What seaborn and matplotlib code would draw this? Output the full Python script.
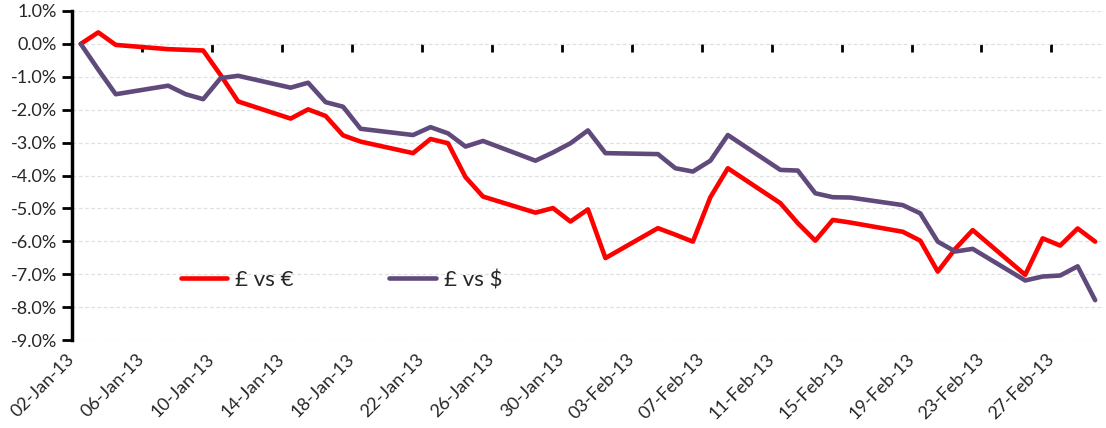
import matplotlib
matplotlib.use("Agg")
import matplotlib.pyplot as plt
import matplotlib.ticker as mticker
import seaborn as sns
import pandas as pd

dates = ["2013-01-02", "2013-01-03", "2013-01-04",
         "2013-01-07", "2013-01-08", "2013-01-09", "2013-01-10", "2013-01-11",
         "2013-01-14", "2013-01-15", "2013-01-16", "2013-01-17", "2013-01-18",
         "2013-01-21", "2013-01-22", "2013-01-23", "2013-01-24", "2013-01-25",
         "2013-01-28", "2013-01-29", "2013-01-30", "2013-01-31", "2013-02-01",
         "2013-02-04", "2013-02-05", "2013-02-06", "2013-02-07", "2013-02-08",
         "2013-02-11", "2013-02-12", "2013-02-13", "2013-02-14", "2013-02-15",
         "2013-02-18", "2013-02-19", "2013-02-20", "2013-02-21", "2013-02-22",
         "2013-02-25", "2013-02-26", "2013-02-27", "2013-02-28", "2013-03-01"]

gbp_eur = [0.00, 0.35, -0.03,
           -0.16, -0.18, -0.20, -0.95, -1.75,
           -2.27, -1.99, -2.19, -2.78, -2.97,
           -3.32, -2.89, -3.02, -4.05, -4.64,
           -5.13, -4.99, -5.40, -5.03, -6.51,
           -5.60, -5.80, -6.01, -4.66, -3.78,
           -4.84, -5.45, -5.98, -5.35, -5.43,
           -5.71, -5.98, -6.92, -6.23, -5.66,
           -7.02, -5.91, -6.13, -5.61, -6.01]

gbp_usd = [0.00, -0.78, -1.53,
           -1.27, -1.53, -1.68, -1.04, -0.97,
           -1.33, -1.18, -1.77, -1.91, -2.58,
           -2.77, -2.53, -2.72, -3.12, -2.95,
           -3.55, -3.30, -3.02, -2.63, -3.32,
           -3.35, -3.78, -3.88, -3.55, -2.77,
           -3.83, -3.85, -4.54, -4.66, -4.67,
           -4.90, -5.15, -6.01, -6.31, -6.23,
           -7.19, -7.07, -7.04, -6.76, -7.79]

series_names = ["£ vs €", "£ vs $"]
colors = {"£ vs €": "#FF0000", "£ vs $": "#604A7B"}

y_ticks = list(range(-9, 2))
x_tick_start = "2013-01-02"
x_tick_end = "2013-02-27"

sns.set_style("white")
plt.rcParams["font.family"] = ["Lato", "DejaVu Sans"]

dt = pd.to_datetime(dates) + pd.Timedelta(hours=12)
df = pd.concat([
    pd.DataFrame({"date": dt, "value": gbp_eur, "series": series_names[0]}),
    pd.DataFrame({"date": dt, "value": gbp_usd, "series": series_names[1]}),
])

fig = plt.figure(figsize=(11.06, 4.28), dpi=100)
ax = fig.add_axes([0.0651, 0.2056, 0.933, 0.7687])

sns.lineplot(data=df, x="date", y="value", hue="series", hue_order=series_names,
             palette=colors, linewidth=3.3, ax=ax, legend=True, sort=False)

ax.set_xlim(pd.Timestamp("2013-01-02"), pd.Timestamp("2013-03-02"))
ax.set_ylim(-9, 1)
ax.set_yticks(y_ticks)
ax.yaxis.set_major_formatter(mticker.FuncFormatter(lambda v, p: f"{v:.1f}%"))
ax.grid(axis="y", color="#e0e0e0", linestyle=(0, (3, 2)), linewidth=0.9)
ax.grid(axis="x", visible=False)
ax.set_xlabel("")
ax.set_ylabel("")

xt = pd.date_range(x_tick_start, x_tick_end, freq="4D")
ax.set_xticks(xt)
ax.set_xticklabels([d.strftime("%d-%b-%y") for d in xt], rotation=45,
                   ha="right", va="center", rotation_mode="anchor", fontsize=13)
ax.tick_params(axis="x", length=0, pad=12)
ax.tick_params(axis="y", length=7, width=2, color="black", direction="out",
               labelsize=13, pad=4, left=True)

for s in ["top", "right", "bottom"]:
    ax.spines[s].set_visible(False)
ax.spines["left"].set_color("black")
ax.spines["left"].set_linewidth(2.5)

# zero line acting as the category axis
sec = ax.secondary_xaxis(0.9)
sec.set_xticks(xt)
sec.tick_params(axis="x", length=6, width=2, direction="out", color="black",
                labelbottom=False, labeltop=False, bottom=True, top=False)
for s in ["top", "left", "right"]:
    sec.spines[s].set_visible(False)
sec.spines["bottom"].set_color("black")
sec.spines["bottom"].set_linewidth(2.8)

handles, labels = ax.get_legend_handles_labels()
ax.legend(handles, labels, loc="center left", bbox_to_anchor=(0.086, 0.182),
          ncol=2, frameon=False, fontsize=16, handlelength=2.1,
          handletextpad=0.35, columnspacing=4.3)
for line in ax.get_legend().get_lines():
    line.set_linewidth(3.3)

fig.savefig("out.png", dpi=100)
